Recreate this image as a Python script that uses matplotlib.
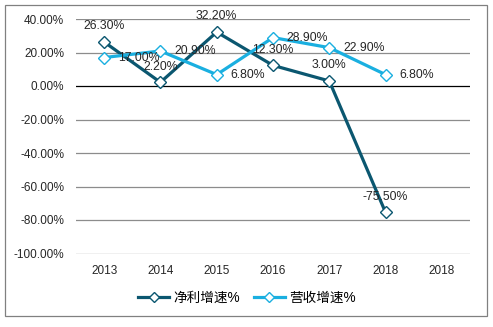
import matplotlib
matplotlib.use('Agg')
import matplotlib.pyplot as plt
from matplotlib.patches import Rectangle

plt.rcParams['font.family'] = ['Liberation Sans', 'Noto Sans CJK SC', 'DejaVu Sans']

# data
years = ['2013', '2014', '2015', '2016', '2017', '2018', '2018']
profit_growth = [26.3, 2.2, 32.2, 12.3, 3.0, -75.5]
revenue_growth = [17.0, 20.9, 6.8, 28.9, 22.9, 6.8]
y_ticks = [40, 20, 0, -20, -40, -60, -80, -100]

dark = '#0B5770'
light = '#1AAFE0'
txt = '#262626'

fig = plt.figure(figsize=(4.93, 3.27), dpi=100)
ax = fig.add_axes([76 / 493, 1 - 253.5 / 327, 394 / 493, 234.5 / 327])

# outer border
fig.patches.append(Rectangle((5 / 493, 1 - 316 / 327), 482 / 493, 311 / 327,
                             transform=fig.transFigure, fill=False,
                             edgecolor='#808080', linewidth=0.9))

for t in y_ticks:
    ax.axhline(t, color='black' if t == 0 else '#8c8c8c',
               linewidth=0.9, zorder=1)

x1 = list(range(len(profit_growth)))
x2 = list(range(len(revenue_growth)))
ax.plot(x1, profit_growth, color=dark, linewidth=2.3, marker='D',
        markersize=6.5, markerfacecolor='white', markeredgecolor=dark,
        markeredgewidth=1.0, label='净利增速%', zorder=3)
ax.plot(x2, revenue_growth, color=light, linewidth=2.3, marker='D',
        markersize=6.5, markerfacecolor='white', markeredgecolor=light,
        markeredgewidth=1.0, label='营收增速%', zorder=3)

for x, v in zip(x1, profit_growth):
    ax.annotate(f'{v:.2f}%', (x, v), xytext=(0, 7), textcoords='offset points',
                ha='center', va='bottom', fontsize=8.8, color=txt, zorder=4)
for x, v in zip(x2, revenue_growth):
    ax.annotate(f'{v:.2f}%', (x, v), xytext=(10, 0), textcoords='offset points',
                ha='left', va='center', fontsize=8.8, color=txt, zorder=4)

ax.set_xlim(-0.5, len(years) - 0.5)
ax.set_ylim(-100, 40)
ax.set_xticks(range(len(years)))
ax.set_xticklabels(years, fontsize=8.5, color=txt)
ax.set_yticks(y_ticks)
ax.set_yticklabels([f'{t:.2f}%' for t in y_ticks], fontsize=8.5, color=txt)
ax.tick_params(length=0, pad=8.5)
ax.tick_params(axis='x', pad=8)
for s in ax.spines.values():
    s.set_visible(False)

ax.legend(loc='center', bbox_to_anchor=(0.434, -0.19), ncol=2, frameon=False,
          fontsize=9.8, handlelength=2.3, columnspacing=1.0, handletextpad=0.3,
          markerscale=0.8)

fig.savefig('out.png', dpi=100)
